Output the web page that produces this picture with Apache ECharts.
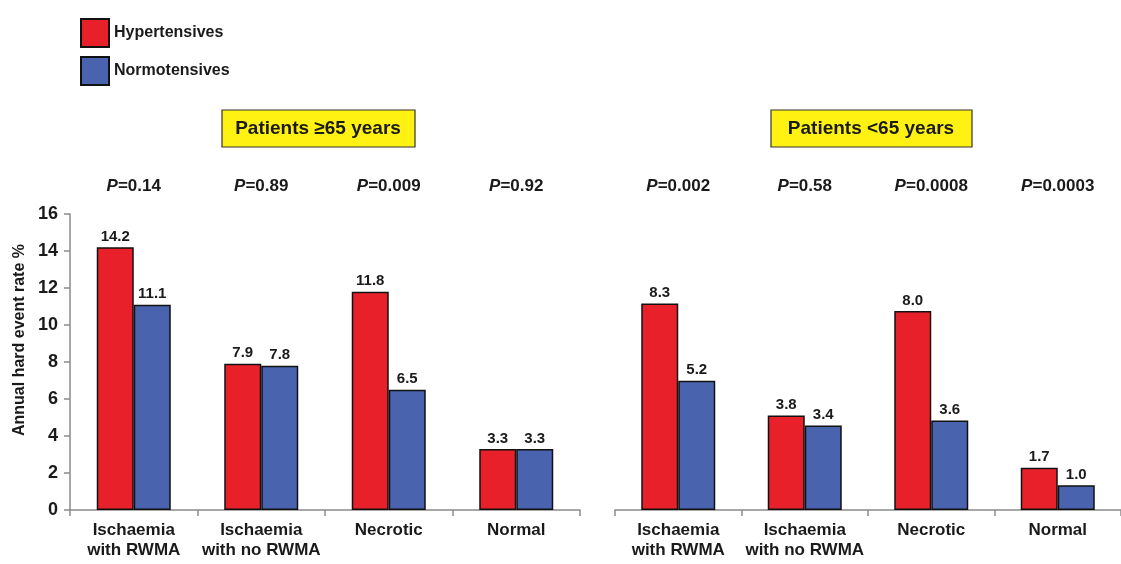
<!DOCTYPE html>
<html><head><meta charset="utf-8">
<script src="https://cdn.jsdelivr.net/npm/echarts@6/dist/echarts.min.js"></script>
<style>html,body{margin:0;padding:0;background:#fff}#c{width:1121px;height:564px}</style>
</head><body><div id="c"></div>
<script>
const categories = ['Ischaemia\nwith RWMA', 'Ischaemia\nwith no RWMA', 'Necrotic', 'Normal'];
const hyperOld = [14.2, 7.9, 11.8, 3.3];
const normoOld = [11.1, 7.8, 6.5, 3.3];
const hyperYoung = [8.3, 3.8, 8.0, 1.7];
const normoYoung = [5.2, 3.4, 3.6, 1.0];
const pOld = ['0.14', '0.89', '0.009', '0.92'];
const pYoung = ['0.002', '0.58', '0.0008', '0.0003'];
const panelTitles = ['Patients \u226565 years', 'Patients <65 years'];
const yTitle = 'Annual hard event rate %';

const RED = '#E8202A', BLUE = '#4A63AE', TXT = '#1a1a1a', AX = '#8a8a8a';
const F = '"Liberation Sans", Arial, sans-serif';

const chart = echarts.init(document.getElementById('c'));
const barStyle = c => ({ color: c, borderColor: '#111', borderWidth: 1.5 });
const lbl = { show: true, position: 'top', distance: 3, color: TXT, fontFamily: F, fontWeight: 'bold', fontSize: 15,
  formatter: p => p.value.toFixed(1) };
const catAxis = (g) => ({
  type: 'category', gridIndex: g, data: categories,
  axisLine: { lineStyle: { color: AX, width: 1.5 } },
  axisTick: { show: true, length: 6, interval: 0, lineStyle: { color: AX, width: 1.5 } },
  axisLabel: { interval: 0, color: TXT, fontFamily: F, fontWeight: 'bold', fontSize: 17, lineHeight: 20, margin: 10 }
});
const pAxis = (g, arr) => ({
  type: 'category', gridIndex: g, position: 'top', data: arr,
  axisLine: { show: false }, axisTick: { show: false },
  axisLabel: {
    interval: 0, margin: 19, formatter: v => '{i|P}{n|=' + v + '}',
    rich: {
      i: { fontFamily: F, fontStyle: 'italic', fontWeight: 'bold', fontSize: 17, color: TXT },
      n: { fontFamily: F, fontWeight: 'bold', fontSize: 17, color: TXT }
    }
  }
});
chart.setOption({
  animation: false,
  legend: {
    orient: 'vertical', left: 75, top: 13, itemWidth: 28, itemHeight: 28, itemGap: 8,
    icon: 'rect', data: ['Hypertensives', 'Normotensives'],
    textStyle: { color: TXT, fontFamily: F, fontWeight: 'bold', fontSize: 16 }
  },
  grid: [
    { left: 70, top: 214, width: 510, height: 296 },
    { left: 615, top: 214, width: 516, height: 296 }
  ],
  xAxis: [catAxis(0), catAxis(1), pAxis(0, pOld), pAxis(1, pYoung)],
  yAxis: [
    { type: 'value', gridIndex: 0, min: 0, max: 16, interval: 2,
      name: yTitle, nameLocation: 'middle', nameGap: 42,
      nameTextStyle: { color: TXT, fontFamily: F, fontWeight: 'bold', fontSize: 16, padding: [0, 0, 0, 44] },
      axisLine: { show: true, lineStyle: { color: AX, width: 1.5 } },
      axisTick: { show: true, length: 6, lineStyle: { color: AX, width: 1.5 } },
      splitLine: { show: false },
      axisLabel: { color: TXT, fontFamily: F, fontWeight: 'bold', fontSize: 18, margin: 12 } },
    { type: 'value', gridIndex: 1, min: 0, max: 11.9, show: false, splitLine: { show: false } }
  ],
  series: [
    { name: 'Hypertensives', type: 'bar', xAxisIndex: 0, yAxisIndex: 0, data: hyperOld, barWidth: 37, barGap: '0%', itemStyle: barStyle(RED), label: lbl },
    { name: 'Normotensives', type: 'bar', xAxisIndex: 0, yAxisIndex: 0, data: normoOld, barWidth: 37, barGap: '0%', itemStyle: barStyle(BLUE), label: lbl },
    { name: 'Hypertensives', type: 'bar', xAxisIndex: 1, yAxisIndex: 1, data: hyperYoung, barWidth: 37, barGap: '0%', itemStyle: barStyle(RED), label: lbl },
    { name: 'Normotensives', type: 'bar', xAxisIndex: 1, yAxisIndex: 1, data: normoYoung, barWidth: 37, barGap: '0%', itemStyle: barStyle(BLUE), label: lbl }
  ],
  graphic: [
    { type: 'rect', shape: { x: 222, y: 110, width: 193, height: 37 }, style: { fill: '#FFF212', stroke: '#333', lineWidth: 1.2 }, z: 10 },
    { type: 'text', x: 318, y: 129, style: { text: panelTitles[0], fill: TXT, font: 'bold 19px "Liberation Sans", Arial, sans-serif', align: 'center', verticalAlign: 'middle' }, z: 11 },
    { type: 'rect', shape: { x: 771, y: 110, width: 201, height: 37 }, style: { fill: '#FFF212', stroke: '#333', lineWidth: 1.2 }, z: 10 },
    { type: 'text', x: 871, y: 129, style: { text: panelTitles[1], fill: TXT, font: 'bold 19px "Liberation Sans", Arial, sans-serif', align: 'center', verticalAlign: 'middle' }, z: 11 }
  ]
});
</script></body></html>
